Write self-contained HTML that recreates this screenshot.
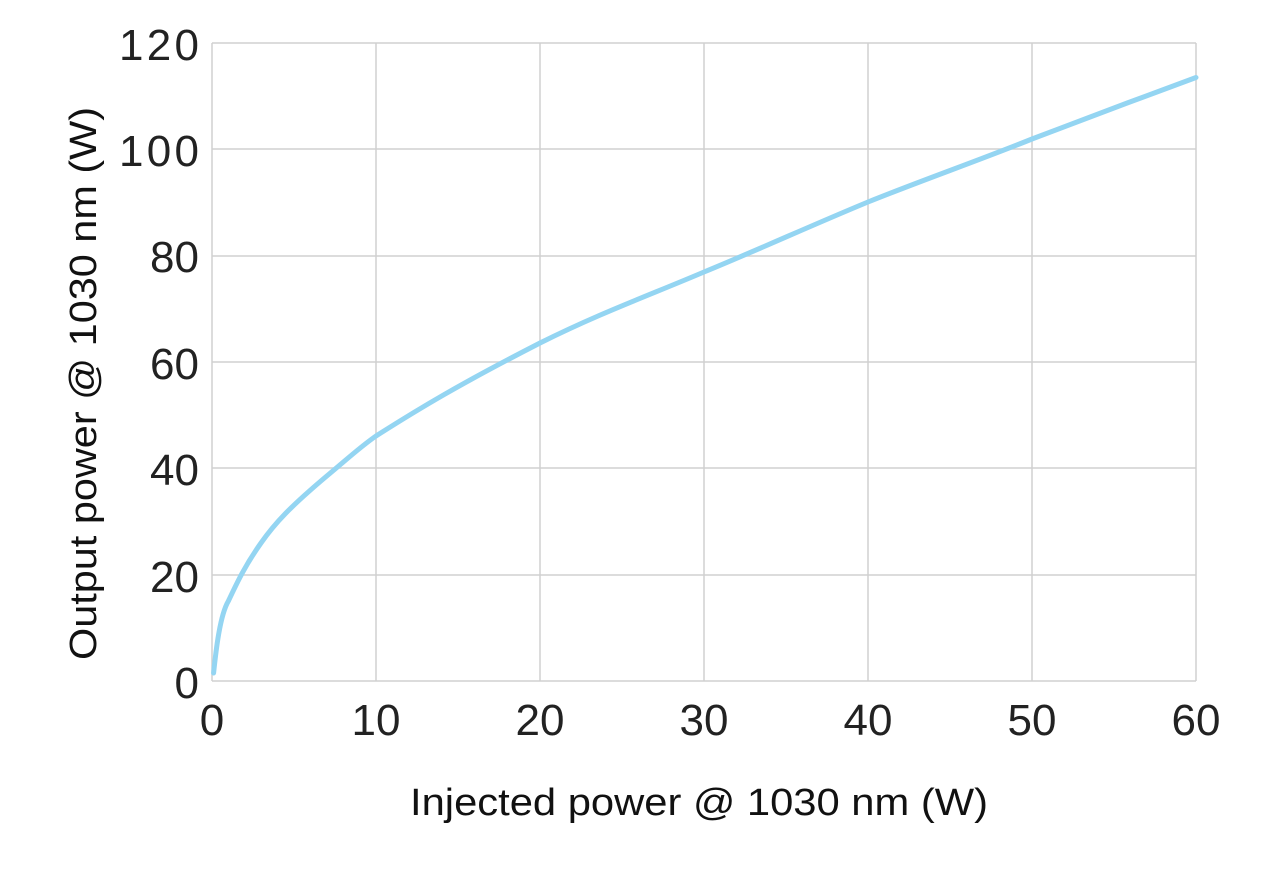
<!DOCTYPE html>
<html><head><style>body{margin:0;background:#fff}</style></head><body>
<svg width="1280" height="872" xmlns="http://www.w3.org/2000/svg" font-family="Liberation Sans, sans-serif">
<rect width="1280" height="872" fill="#fff"/>
<g stroke="#d0d0d0" stroke-width="1.5">
<line x1="212" y1="43" x2="1196" y2="43"/><line x1="212" y1="149" x2="1196" y2="149"/>
<line x1="212" y1="256" x2="1196" y2="256"/><line x1="212" y1="362" x2="1196" y2="362"/>
<line x1="212" y1="468" x2="1196" y2="468"/><line x1="212" y1="575" x2="1196" y2="575"/>
<line x1="212" y1="681" x2="1196" y2="681"/>
<line x1="212" y1="43" x2="212" y2="681"/><line x1="376" y1="43" x2="376" y2="681"/>
<line x1="540" y1="43" x2="540" y2="681"/><line x1="704" y1="43" x2="704" y2="681"/>
<line x1="868" y1="43" x2="868" y2="681"/><line x1="1032" y1="43" x2="1032" y2="681"/>
<line x1="1196" y1="43" x2="1196" y2="681"/>
</g>
<path fill="none" stroke="#94d5f2" stroke-width="5" stroke-linecap="round"
d="M213.6,673 C216,650 220,615 228.4,601 C236,585 244,567 261,543 C275,523 290,507 326.8,476 C345,461 360,447 376,436 C420,408 460,384 540,343 C600,313 650,295 704,272 C760,249 810,226 868,202 C920,181 980,160 1032,139 C1090,117 1140,98 1196,77.5"/>
<g font-size="44" fill="#222" text-anchor="end">
<text x="199" y="60" textLength="80">120</text><text x="199" y="166" textLength="80">100</text><text x="199" y="272">80</text>
<text x="199" y="379">60</text><text x="199" y="485">40</text><text x="199" y="592">20</text>
<text x="199" y="698">0</text>
</g>
<g font-size="44" fill="#222" text-anchor="middle">
<text x="212" y="735">0</text><text x="376" y="735">10</text><text x="540" y="735">20</text>
<text x="704" y="735">30</text><text x="868" y="735">40</text><text x="1032" y="735">50</text>
<text x="1196" y="735">60</text>
</g>
<text x="410" y="815" font-size="38" fill="#111" textLength="578" lengthAdjust="spacingAndGlyphs">Injected power @ 1030 nm (W)</text>
<text transform="translate(96,660) rotate(-90)" font-size="38" fill="#111" textLength="553" lengthAdjust="spacingAndGlyphs">Output power @ 1030 nm (W)</text>
</svg>
</body></html>
